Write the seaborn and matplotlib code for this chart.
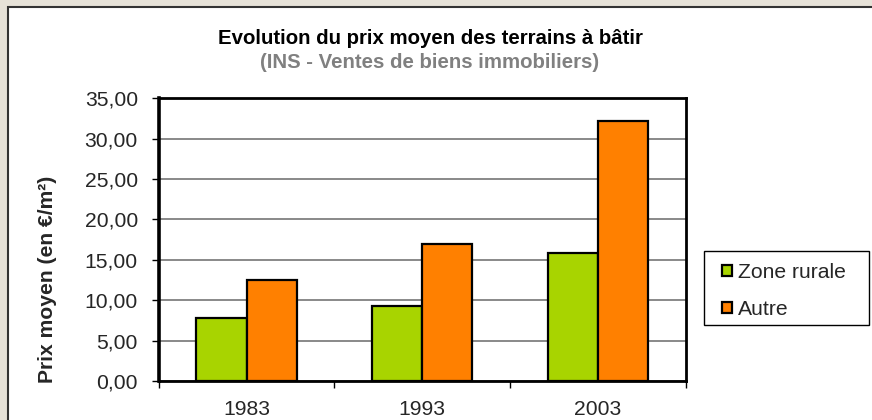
import matplotlib
matplotlib.use("Agg")
import matplotlib.pyplot as plt
import matplotlib.ticker as mticker
from matplotlib.patches import Rectangle
import seaborn as sns
import pandas as pd

# données
years = ["1983", "1993", "2003"]
zone_rurale = [7.8, 9.3, 15.8]
autre = [12.5, 17.0, 32.2]
series_names = ["Zone rurale", "Autre"]
colors = ["#A8D400", "#FF8000"]

df = pd.DataFrame({
    "annee": years * 2,
    "serie": [series_names[0]] * 3 + [series_names[1]] * 3,
    "prix": zone_rurale + autre,
})

sns.set_theme(style="white")
plt.rcParams["font.family"] = ["Liberation Sans", "DejaVu Sans"]
FS = 15.2

fig = plt.figure(figsize=(8.72, 4.2), dpi=100)
fig.patch.set_facecolor("#E6E2D8")
fig.patches.append(Rectangle((8 / 872, -0.1), 1.1, 1.1 - 7 / 420,
                             transform=fig.transFigure, facecolor="white",
                             edgecolor="#333333", linewidth=1.5, zorder=-5))
# cadre de la légende
fig.patches.append(Rectangle((704 / 872, 1 - 325 / 420), 165 / 872, 74 / 420,
                             transform=fig.transFigure, facecolor="white",
                             edgecolor="black", linewidth=1, zorder=-4))

ax = fig.add_axes([158.7 / 872, 1 - 381 / 420, 527 / 872, 282.7 / 420])
sns.barplot(data=df, x="annee", y="prix", hue="serie", palette=colors,
            width=0.57, gap=0, edgecolor="black", linewidth=1.6,
            saturation=1, ax=ax, zorder=3)

ax.set_xlim(-0.5, 2.5)
ax.set_ylim(0, 35)
ax.set_yticks(range(0, 36, 5))
ax.yaxis.set_major_formatter(mticker.FuncFormatter(lambda v, p: f"{v:.2f}".replace(".", ",")))
ax.yaxis.grid(True, color="#808080", linewidth=1.3, zorder=1)
ax.set_axisbelow(True)
ax.set_xlabel("")
ax.set_ylabel("Prix moyen (en €/m²)", fontsize=FS, fontweight="bold")
ax.yaxis.set_label_coords(-0.193, 0.36)

ax.tick_params(axis="y", direction="out", length=5, width=1, color="black",
               pad=10, labelsize=FS, left=True)
ax.tick_params(axis="x", which="major", length=0, pad=14, labelsize=FS)
ax.set_xticks([-0.5, 0.5, 1.5, 2.5], minor=True)
ax.tick_params(axis="x", which="minor", direction="out", length=5, width=1,
               color="black", bottom=True)

for side in ["left", "right", "top", "bottom"]:
    ax.spines[side].set_visible(True)
    ax.spines[side].set_color("black")
    ax.spines[side].set_linewidth(2)
ax.spines["left"].set_linewidth(2.6)

fig.text(430 / 872, 1 - 38 / 420, "Evolution du prix moyen des terrains à bâtir",
         ha="center", va="center", fontsize=14.7, fontweight="bold", color="black")
fig.text(430 / 872, 1 - 62 / 420, "(INS - Ventes de biens immobiliers)",
         ha="center", va="center", fontsize=14.7, fontweight="bold", color="#808080")

leg = ax.legend(loc="upper left", bbox_to_anchor=(722 / 872, 1 - 263 / 420),
                bbox_transform=fig.transFigure, borderaxespad=0, frameon=False,
                fontsize=FS, handlelength=0.48, handleheight=0.48,
                handletextpad=0.28, labelspacing=0.85, borderpad=0, title=None)
for h in leg.legend_handles:
    h.set_edgecolor("black")
    h.set_linewidth(1.6)

fig.savefig("out.png", dpi=100)
